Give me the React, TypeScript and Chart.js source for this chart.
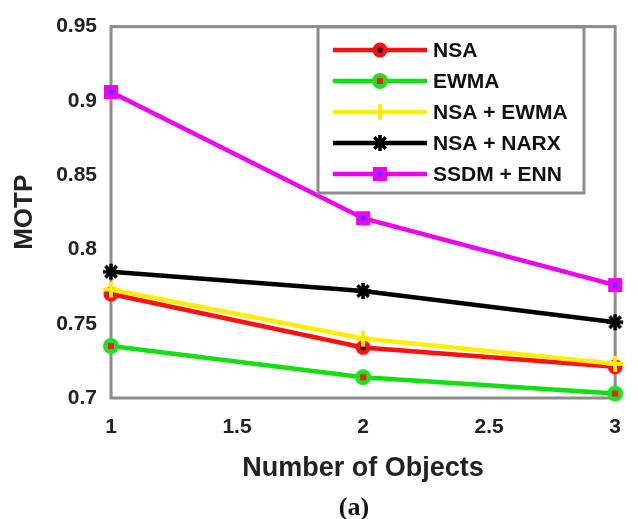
import React, { useEffect, useRef } from "react";
import { Chart, registerables } from "chart.js";

Chart.register(...registerables);

const xValues = [1, 2, 3];
const seriesNames = ["NSA", "EWMA", "NSA + EWMA", "NSA + NARX", "SSDM + ENN"];
const nsa = [0.770, 0.734, 0.721];
const ewma = [0.735, 0.714, 0.703];
const nsaEwma = [0.773, 0.740, 0.723];
const nsaNarx = [0.785, 0.772, 0.751];
const ssdmEnn = [0.906, 0.821, 0.776];
const xTicks = [1, 1.5, 2, 2.5, 3];
const xTickLabels = ["1", "1.5", "2", "2.5", "3"];
const yTicks = [0.7, 0.75, 0.8, 0.85, 0.9, 0.95];
const yTickLabels = ["0.7", "0.75", "0.8", "0.85", "0.9", "0.95"];

const colors = ["#ff1010", "#10e010", "#ffee00", "#000000", "#f000f0"];

function mk(size: number, draw: (c: CanvasRenderingContext2D, s: number) => void) {
  const cv = document.createElement("canvas");
  cv.width = size;
  cv.height = size;
  const c = cv.getContext("2d")!;
  draw(c, size);
  return cv;
}

function markers() {
  const m1 = mk(18, (c, s) => {
    c.fillStyle = "#ff1010";
    c.beginPath();
    c.arc(s / 2, s / 2, 7.5, 0, Math.PI * 2);
    c.fill();
    c.fillStyle = "#300000";
    c.beginPath();
    c.arc(s / 2, s / 2, 2.8, 0, Math.PI * 2);
    c.fill();
  });
  const m2 = mk(18, (c, s) => {
    c.fillStyle = "#20e020";
    c.beginPath();
    c.arc(s / 2, s / 2, 8, 0, Math.PI * 2);
    c.fill();
    c.fillStyle = "#ee2020";
    c.fillRect(s / 2 - 3, s / 2 - 3, 6, 6);
  });
  const m3 = mk(20, (c, s) => {
    c.strokeStyle = "#ffee00";
    c.lineWidth = 4;
    c.beginPath();
    c.moveTo(s / 2, 2);
    c.lineTo(s / 2, s - 2);
    c.moveTo(2, s / 2);
    c.lineTo(s - 2, s / 2);
    c.stroke();
  });
  const m4 = mk(20, (c, s) => {
    c.strokeStyle = "#000";
    c.lineWidth = 3.5;
    c.beginPath();
    for (let i = 0; i < 4; i++) {
      const a = (i * Math.PI) / 4;
      c.moveTo(s / 2 - Math.cos(a) * 8, s / 2 - Math.sin(a) * 8);
      c.lineTo(s / 2 + Math.cos(a) * 8, s / 2 + Math.sin(a) * 8);
    }
    c.stroke();
  });
  const m5 = mk(16, (c, s) => {
    c.fillStyle = "#f000f0";
    c.fillRect(1, 1, s - 2, s - 2);
    c.fillStyle = "#4040ff";
    c.beginPath();
    c.arc(s / 2, s / 2, 2.5, 0, Math.PI * 2);
    c.fill();
  });
  return [m1, m2, m3, m4, m5];
}

export default function App() {
  const ref = useRef<HTMLCanvasElement>(null);
  useEffect(() => {
    const pts = markers();
    const values = [nsa, ewma, nsaEwma, nsaNarx, ssdmEnn];
    const datasets = values.map((v, i) => ({
      label: seriesNames[i],
      data: v.map((y, j) => ({ x: xValues[j], y })),
      borderColor: colors[i],
      backgroundColor: colors[i],
      borderWidth: 4.5,
      pointStyle: pts[i] as any,
      pointRadius: 8,
      tension: 0,
      clip: false as any,
      order: 5 - i,
    }));

    const boxPlugin = {
      id: "boxPlugin",
      beforeDatasetsDraw(chart: any) {
        const { ctx, chartArea: a } = chart;
        ctx.save();
        ctx.strokeStyle = "#8c8c8c";
        ctx.lineWidth = 3;
        ctx.strokeRect(a.left, a.top, a.right - a.left, a.bottom - a.top);
        ctx.restore();
      },
      afterDraw(chart: any) {
        const { ctx } = chart;
        ctx.save();
        // legend
        const lx = 318, ly = 27, lw = 266, lh = 166;
        ctx.fillStyle = "#fff";
        ctx.fillRect(lx, ly, lw, lh);
        ctx.strokeStyle = "#8c8c8c";
        ctx.lineWidth = 3;
        ctx.strokeRect(lx, ly, lw, lh);
        chart.data.datasets.forEach((ds: any, i: number) => {
          const y = 50 + i * 31;
          ctx.strokeStyle = ds.borderColor;
          ctx.lineWidth = 4.5;
          ctx.beginPath();
          ctx.moveTo(333, y);
          ctx.lineTo(427, y);
          ctx.stroke();
          const img = ds.pointStyle as HTMLCanvasElement;
          ctx.drawImage(img, 380 - img.width / 2, y - img.height / 2);
          ctx.fillStyle = "#111";
          ctx.font = "bold 21px 'Liberation Sans', Arial, sans-serif";
          ctx.textBaseline = "middle";
          ctx.textAlign = "left";
          ctx.fillText(ds.label, 433, y + 1);
        });
        // caption
        ctx.fillStyle = "#111";
        ctx.font = "bold 26px 'Liberation Serif', 'Times New Roman', serif";
        ctx.textAlign = "center";
        ctx.textBaseline = "middle";
        ctx.fillText("(a)", 354, 508);
        ctx.restore();
      },
    };

    const tickFont = { family: "'Liberation Sans', Arial, sans-serif", size: 21, weight: "bold" as const };
    const chart = new Chart(ref.current!, {
      type: "line",
      data: { datasets },
      options: {
        animation: false,
        responsive: false,
        layout: { padding: { top: 16, right: 17, left: 0, bottom: 0 } },
        plugins: { legend: { display: false }, tooltip: { enabled: false } },
        scales: {
          x: {
            type: "linear",
            min: 1,
            max: 3,
            grid: { display: false, drawTicks: false },
            border: { display: false },
            afterBuildTicks: (s: any) => {
              s.ticks = xTicks.map((v) => ({ value: v }));
            },
            afterFit: (s: any) => {
              s.height = 121;
            },
            ticks: {
              padding: 17,
              color: "#222",
              font: tickFont,
              maxRotation: 0,
              autoSkip: false,
              callback: (v: any) => xTickLabels[xTicks.indexOf(Number(v))] ?? "",
            },
            title: {
              display: true,
              text: "Number of Objects",
              color: "#222",
              font: { family: "'Liberation Sans', Arial, sans-serif", size: 27, weight: "bold" },
              padding: { top: 0, bottom: 34 },
            },
          },
          y: {
            type: "linear",
            min: 0.7,
            max: 0.95,
            grid: { display: false, drawTicks: false },
            border: { display: false },
            afterBuildTicks: (s: any) => {
              s.ticks = yTicks.map((v) => ({ value: v }));
            },
            afterFit: (s: any) => {
              s.width = 111;
            },
            ticks: {
              padding: 14,
              color: "#222",
              font: tickFont,
              autoSkip: false,
              callback: (v: any) => {
                const k = yTicks.findIndex((t) => Math.abs(t - Number(v)) < 1e-9);
                return k >= 0 ? yTickLabels[k] : "";
              },
            },
            title: {
              display: true,
              text: "MOTP",
              color: "#222",
              font: { family: "'Liberation Sans', Arial, sans-serif", size: 26, weight: "bold" },
              padding: { top: 9, bottom: 0 },
            },
          },
        },
      },
      plugins: [boxPlugin],
    });
    return () => chart.destroy();
  }, []);
  return (
    <div style={{ position: "absolute", left: 0, top: 0, width: 638, height: 519, background: "#fff" }}>
      <canvas ref={ref} width={638} height={519} />
    </div>
  );
}
